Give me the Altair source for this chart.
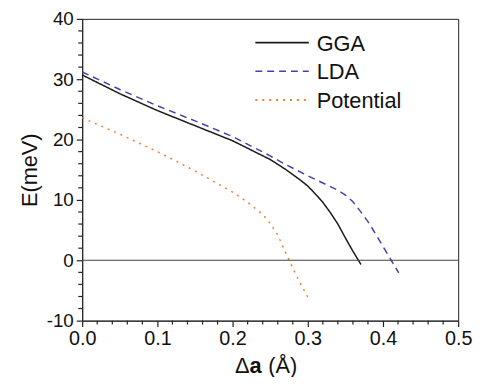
import altair as alt
import pandas as pd

# ---- data ----
series_names = ["GGA", "LDA", "Potential"]
series_colors = ["#1a1a1a", "#4e3fb0", "#ef7d32"]

gga_x = [0.0, 0.05, 0.1, 0.15, 0.2, 0.25, 0.27, 0.29, 0.3, 0.31, 0.32, 0.33, 0.34, 0.35, 0.36, 0.3707]
gga_y = [30.7, 27.6, 24.8, 22.3, 19.8, 16.7, 15.1, 13.3, 12.3, 11.0, 9.6, 7.9, 6.0, 3.7, 1.5, -0.7]

lda_x = [0.0, 0.05, 0.1, 0.15, 0.2, 0.25, 0.27, 0.3, 0.32, 0.34, 0.35, 0.36, 0.37, 0.38, 0.39, 0.40, 0.41, 0.421]
lda_y = [31.2, 28.3, 25.6, 23.1, 20.5, 17.3, 15.9, 14.0, 12.8, 11.6, 10.8, 9.7, 8.1, 6.4, 4.4, 2.3, 0.2, -2.1]

pot_x = [0.0, 0.05, 0.1, 0.15, 0.2, 0.22, 0.24, 0.25, 0.26, 0.27, 0.28, 0.29, 0.3]
pot_y = [23.6, 20.9, 18.0, 14.8, 11.3, 9.6, 7.6, 6.1, 4.2, 1.4, -1.3, -3.8, -6.1]

x_major = [0.0, 0.1, 0.2, 0.3, 0.4, 0.5]
y_major = [-10, 0, 10, 20, 30, 40]
x_minor = [v for v in [round(i * 0.02, 2) for i in range(26)] if v not in x_major]
y_minor = [v for v in range(-10, 41, 2) if v not in y_major]

rows = []
for name, xs, ys in [("GGA", gga_x, gga_y), ("LDA", lda_x, lda_y), ("Potential", pot_x, pot_y)]:
    for xv, yv in zip(xs, ys):
        rows.append({"series": name, "x": xv, "y": yv})
df = pd.DataFrame(rows)

FONT = "Liberation Sans"
AX = "#222222"
H = 305

x_axis = alt.Axis(
    values=x_major,
    format=".1f",
    tickSize=6,
    tickWidth=1.2,
    tickColor=AX,
    domainColor=AX,
    title=None,
    labelFontSize=20,
    labelFont=FONT,
    labelColor="#111111",
    labelPadding=2,
    labelOverlap=False,
    labelFlush=False,
    labelBound=False,
    grid=False,
)
y_axis = alt.Axis(
    values=y_major,
    labelExpr="'' + datum.value",
    tickSize=6,
    tickWidth=1.2,
    tickColor=AX,
    domainColor=AX,
    title="E(meV)",
    titleFont=FONT,
    titleColor="#111111",
    titleFontSize=22,
    titleFontWeight="normal",
    titlePadding=5,
    labelFontSize=19,
    labelFont=FONT,
    labelColor="#111111",
    labelPadding=3,
    labelOverlap=False,
    labelFlush=False,
    labelBound=False,
    grid=False,
)

xscale = alt.Scale(domain=[0, 0.5], nice=False, zero=False)
yscale = alt.Scale(domain=[-10, 40], nice=False, zero=False)
xenc = alt.X("x:Q", scale=xscale, axis=x_axis)
yenc = alt.Y("y:Q", scale=yscale, axis=y_axis)

lines = alt.Chart(df).mark_line().encode(
    x=xenc,
    y=yenc,
    color=alt.Color("series:N", scale=alt.Scale(domain=series_names, range=series_colors), legend=None),
    strokeDash=alt.StrokeDash("series:N", scale=alt.Scale(domain=series_names, range=[[1, 0], [7, 5], [2, 5]]), legend=None),
    strokeWidth=alt.StrokeWidth("series:N", scale=alt.Scale(domain=series_names, range=[1.5, 1.5, 1.9]), legend=None),
    detail="series:N",
)

zero_df = pd.DataFrame({"y": [0]})
zero_line = alt.Chart(zero_df).mark_rule(color="#444444", strokeWidth=1.2).encode(y=alt.Y("y:Q", scale=yscale, axis=y_axis))

xminor_df = pd.DataFrame({"x": x_minor})
yminor_df = pd.DataFrame({"y": y_minor})
xminor = alt.Chart(xminor_df).mark_rule(color=AX, strokeWidth=1.2).encode(
    x=alt.X("x:Q", scale=xscale, axis=x_axis), y=alt.value(H), y2=alt.value(H + 4)
)
yminor = alt.Chart(yminor_df).mark_rule(color=AX, strokeWidth=1.2).encode(
    y=alt.Y("y:Q", scale=yscale, axis=y_axis), x=alt.value(-4), x2=alt.value(0)
)

layers = [lines, zero_line, xminor, yminor]

# legend (drawn manually, top-right inside)
dashes = [[1, 0], [7, 5], [2, 5]]
widths = [1.6, 1.5, 1.9]
for i, name in enumerate(series_names):
    ldf = pd.DataFrame({"series": [name]})
    yy = 24 + 29 * i
    layers.append(
        alt.Chart(ldf).mark_rule(color=series_colors[i], strokeDash=dashes[i], strokeWidth=widths[i]).encode(
            x=alt.value(175), x2=alt.value(229), y=alt.value(yy)
        )
    )
    layers.append(
        alt.Chart(ldf).mark_text(align="left", baseline="middle", font=FONT, fontSize=22, color="#111111").encode(
            x=alt.value(237), y=alt.value(yy + 1), text="series:N"
        )
    )

# x title: Δ a (Å) with bold a
t1 = pd.DataFrame({"t": ["Δ"]})
t2 = pd.DataFrame({"t": ["a"]})
t3 = pd.DataFrame({"t": ["(Å)"]})
layers.append(alt.Chart(t1).mark_text(align="right", baseline="alphabetic", font=FONT, fontSize=22, color="#111111").encode(
    x=alt.value(169), y=alt.value(358), text="t:N"))
layers.append(alt.Chart(t2).mark_text(align="left", baseline="alphabetic", font=FONT, fontSize=22, fontWeight="bold", color="#111111").encode(
    x=alt.value(169), y=alt.value(358), text="t:N"))
layers.append(alt.Chart(t3).mark_text(align="left", baseline="alphabetic", font=FONT, fontSize=22, color="#111111").encode(
    x=alt.value(188), y=alt.value(358), text="t:N"))

chart = alt.layer(*layers).properties(
    width=380,
    height=H,
    padding={"left": 75, "top": 9, "right": 18, "bottom": 55},
    autosize="none",
    background="white",
).configure_view(
    stroke=AX, strokeWidth=1
)

chart.save("out.html", embed_options={"renderer": "svg", "actions": False})
